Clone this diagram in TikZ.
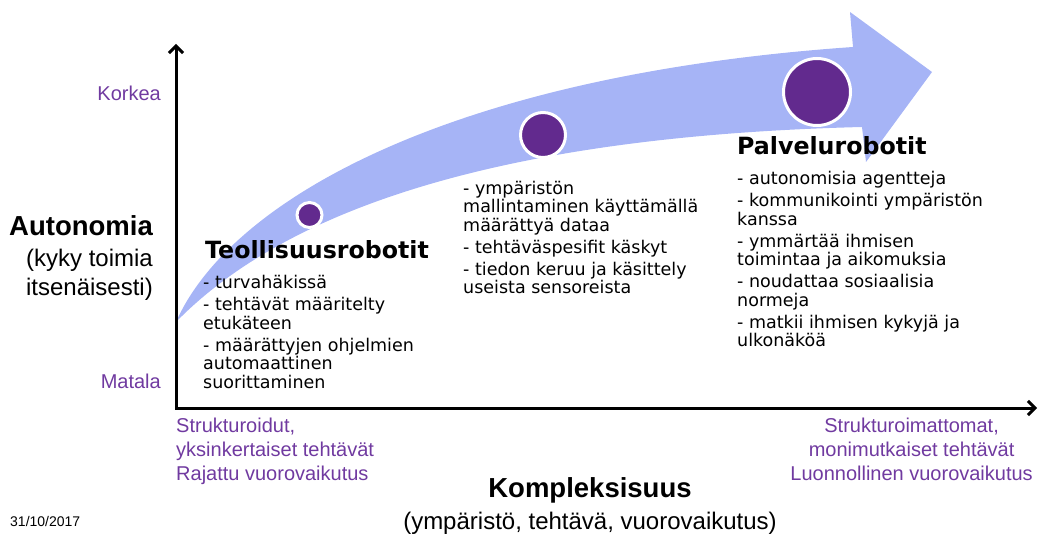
\documentclass[tikz,border=0pt]{standalone}
\usepackage{fontspec}
\setmainfont{Liberation Sans}
\newfontfamily\verdfont{DejaVu Sans}
\usetikzlibrary{arrows.meta,positioning}
\definecolor{arrowblue}{RGB}{166,180,246}
\definecolor{dotpurple}{RGB}{98,42,142}
\definecolor{lblpurple}{RGB}{112,58,160}

\begin{document}
\begin{tikzpicture}[x=1pt,y=-1pt,
  axis/.style={line width=3pt,{Straight Barb[length=7pt,width=14pt]}-{Straight Barb[length=7pt,width=14pt]}},
  dot/.style={circle,fill=dotpurple,draw=white,line width=3pt,inner sep=0pt},
  lbl/.style={text=lblpurple,font=\fontsize{20}{24}\selectfont,inner sep=0pt},
  axtitle/.style={font=\bfseries\fontsize{27.5}{30}\selectfont,inner sep=0pt},
  axsub/.style={font=\fontsize{24}{28.5}\selectfont,inner sep=0pt,align=right},
  robot/.style={font=\verdfont\bfseries\fontsize{23.7}{26}\selectfont,inner sep=0pt,anchor=west},
  bullets/.style={font=\verdfont\fontsize{17.5}{18.5}\selectfont,align=left,inner sep=0pt}
]
\useasboundingbox (0,0) rectangle (1049,534);

% the growth arrow
\fill[arrowblue] (176,322) .. controls (230,200) and (450,75) .. (853,47)
  -- (850,12) -- (932,72) -- (866,162) -- (862,127)
  .. controls (540,135) and (300,195) .. (176,322) -- cycle;

% axes
\coordinate (origin) at (176,408);
\coordinate (ytop) at (176,44);
\coordinate (xend) at (1037,408);
\draw[axis] (ytop) -- (origin) -- (xend);

% robot stages
\node[dot,minimum size=25pt] (smalldot) at (309.5,215) {};
\node[dot,minimum size=45pt] (middot) at (543,135) {};
\node[dot,minimum size=67pt] (bigdot) at (817,92) {};

\node[robot] (teo) at (205,250) {Teollisuusrobotit};
\node[bullets,below=16pt of teo.south west,anchor=north west,xshift=-2pt] (teolist)
  {- turvahäkissä\\[3.5pt] - tehtävät määritelty\\ etukäteen\\[3.5pt]
   - määrättyjen ohjelmien\\ automaattinen\\ suorittaminen};
\node[bullets,anchor=north west] (midlist) at (463,181)
  {- ympäristön\\ mallintaminen käyttämällä\\ määrättyä dataa\\[3.5pt]
   - tehtäväspesifit käskyt\\[3.5pt] - tiedon keruu ja käsittely\\ useista sensoreista};
\node[robot] (palv) at (737,146) {Palvelurobotit};
\node[bullets,below=16pt of palv.south west,anchor=north west] (palvlist)
  {- autonomisia agentteja\\[3.5pt] - kommunikointi ympäristön\\ kanssa\\[3.5pt]
   - ymmärtää ihmisen\\ toimintaa ja aikomuksia\\[3.5pt] - noudattaa sosiaalisia\\ normeja\\[3.5pt]
   - matkii ihmisen kykyjä ja\\ ulkonäköä};

% vertical axis labels
\node[lbl,anchor=east] (korkea) at (161,93) {Korkea};
\node[lbl,anchor=east] (matala) at (161,381) {Matala};
\node[axtitle,anchor=east] (auto) at (153,226) {Autonomia};
\node[axsub,below=13pt of auto.south east,anchor=north east] (autosub)
  {(kyky toimia\\ itsenäisesti)};

% horizontal axis labels
\node[lbl,align=left,anchor=north west] (simple) at (176,418)
  {Strukturoidut,\\ yksinkertaiset tehtävät\\ Rajattu vuorovaikutus};
\node[lbl,align=center,anchor=north east] (complex) at (1033,418)
  {Strukturoimattomat,\\ monimutkaiset tehtävät\\ Luonnollinen vuorovaikutus};
\node[axtitle] (kompl) at (590,490) {Kompleksisuus};
\node[axsub,below=9pt of kompl] (komplsub) {(ympäristö, tehtävä, vuorovaikutus)};

\node[font=\fontsize{14}{16}\selectfont,anchor=west,inner sep=0pt] (date) at (10,521) {31/10/2017};
\end{tikzpicture}
\end{document}
